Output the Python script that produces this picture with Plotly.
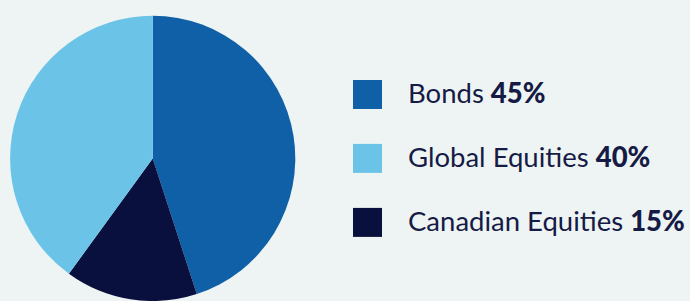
import plotly.graph_objects as go

# Data
labels = ["Bonds", "Canadian Equities", "Global Equities"]
values = [45, 15, 40]
colors = ["#1060a8", "#0a103e", "#6bc4e8"]

legend_order = ["Bonds", "Global Equities", "Canadian Equities"]

W, H = 690, 301
BG = "#eef4f4"
TEXT = "#161b45"

fig = go.Figure()
fig.add_trace(go.Pie(
    labels=labels, values=values,
    marker=dict(colors=colors, line=dict(width=0)),
    sort=False, direction="clockwise", rotation=0,
    textinfo="none", hoverinfo="label+percent",
    showlegend=False,
    domain=dict(x=[(152.7 - 143.5) / W, (152.7 + 143.5) / W], y=[0, 0.9475]),
))

shapes = []
annotations = []
row_centers = [94.5, 158.4, 222.4]
for i, name in enumerate(legend_order):
    idx = labels.index(name)
    yc = row_centers[i]
    shapes.append(dict(
        type="rect", xref="paper", yref="paper",
        x0=353 / W, x1=382 / W, y0=1 - (yc + 14.5) / H, y1=1 - (yc - 14.5) / H,
        fillcolor=colors[idx], line=dict(width=0),
    ))
    annotations.append(dict(
        xref="paper", yref="paper", x=406 / W, y=1 - (yc - 2) / H,
        xanchor="left", yanchor="middle", showarrow=False,
        text=f"{name} <span style='font-weight:900'>{values[idx]}%</span>",
        font=dict(family="Lato", size=27.5, color=TEXT),
    ))

fig.update_layout(
    width=W, height=H,
    margin=dict(l=0, r=0, t=0, b=0),
    paper_bgcolor=BG, plot_bgcolor=BG,
    shapes=shapes, annotations=annotations,
)

fig.write_html(
    "out.html",
    config={"displayModeBar": False},
    post_script="document.body.style.margin='0';document.body.style.background='#eef4f4';",
)
